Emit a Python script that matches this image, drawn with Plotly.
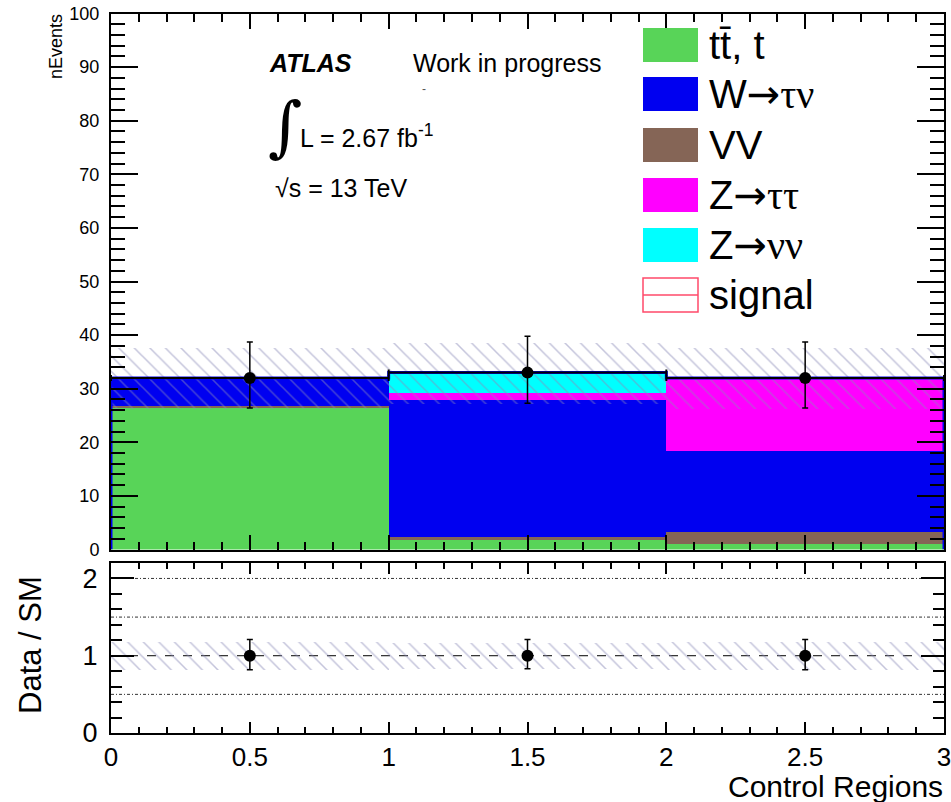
import numpy as np
import plotly.graph_objects as go

# ---------------- data ----------------
bin_edges = [0, 1, 2, 3]
bin_centers = [0.5, 1.5, 2.5]

ttbar = [26.6, 1.9, 1.15]
vv = [0.2, 0.5, 2.3]
w_taunu = [5.2, 25.5, 14.95]
z_tautau = [0.0, 1.3, 13.6]
z_nunu = [0.0, 3.8, 0.0]

mc_err = [5.6, 5.7, 5.6]

data = [32, 33, 32]
data_err_up = [6.7, 6.8, 6.7]
data_err_dn = [5.6, 5.7, 5.6]

ratio = [1.0, 1.0, 1.0]
ratio_err_up = [0.21, 0.21, 0.21]
ratio_err_dn = [0.18, 0.17, 0.18]
ratio_band = [0.18, 0.17, 0.18]

ratio_lines = [0.5, 1.0, 1.5, 2.0]

ARROW = "<span style='font-family:DejaVu Sans'>\u2192</span>"
def serif(s):
    return "<span style='font-family:Liberation Serif'>" + s + "</span>"

legend_labels = ["tt\u0304, t",
                 "W" + ARROW + serif("\u03c4\u03bd"),
                 "VV",
                 "Z" + ARROW + serif("\u03c4\u03c4"),
                 "Z" + ARROW + serif("\u03bd\u03bd"),
                 "signal"]
legend_colors = ["#58d458", "#0000f0", "#856556", "#ff00ff", "#00ffff", None]

stack = [ttbar, vv, w_taunu, z_tautau, z_nunu]
stack_colors = ["#58d458", "#856556", "#0000f0", "#ff00ff", "#00ffff"]

# ---------------- geometry helpers ----------------
W, H = 951, 802
def px(x):
    return x / W
def py(y):
    return 1 - y / H

FONT = "Liberation Sans, Arial, sans-serif"
HATCH = "#8a8ab8"

fig = go.Figure()

# stacked backgrounds
base = np.zeros(3)
for vals, col in zip(stack, stack_colors):
    vals = np.array(vals, dtype=float)
    fig.add_trace(go.Bar(x=bin_centers, y=vals, base=base.copy(), width=1,
                         marker=dict(color=col, line=dict(width=0)),
                         showlegend=False, hoverinfo="skip", xaxis="x", yaxis="y"))
    base = base + vals
total = base

# stack outline (blue)
ox = [bin_edges[0]] + bin_edges[:3] + [bin_edges[3], bin_edges[3]]
oy = [0] + list(total) + [total[-1], 0]
fig.add_trace(go.Scatter(x=ox, y=oy, mode="lines", line=dict(color="#0000f0", width=3, shape="hv"),
                         showlegend=False, hoverinfo="skip", xaxis="x", yaxis="y"))

# MC uncertainty hatch band
err = np.array(mc_err)
fig.add_trace(go.Bar(x=bin_centers, y=2 * err, base=total - err, width=1,
                     marker=dict(color="rgba(0,0,0,0)", line=dict(width=0),
                                 pattern=dict(shape="\\", fgcolor=HATCH, bgcolor="rgba(0,0,0,0)",
                                              size=11, solidity=0.14)),
                     showlegend=False, hoverinfo="skip", xaxis="x", yaxis="y"))

# data
fig.add_trace(go.Scatter(x=bin_centers, y=data, mode="markers",
                         marker=dict(color="black", size=12),
                         error_y=dict(type="data", symmetric=False, array=data_err_up, arrayminus=data_err_dn,
                                      color="black", thickness=1.5, width=3),
                         error_x=dict(type="data", array=[0.5, 0.5, 0.5], color="black", thickness=2, width=3),
                         showlegend=False, hoverinfo="skip", xaxis="x", yaxis="y"))

# ratio band
rb = np.array(ratio_band)
fig.add_trace(go.Bar(x=bin_centers, y=2 * rb, base=1 - rb, width=1,
                     marker=dict(color="rgba(0,0,0,0)", line=dict(width=0),
                                 pattern=dict(shape="\\", fgcolor=HATCH, bgcolor="rgba(0,0,0,0)",
                                              size=11, solidity=0.14)),
                     showlegend=False, hoverinfo="skip", xaxis="x2", yaxis="y2"))

# ratio reference lines
for v in ratio_lines:
    fig.add_shape(type="line", xref="x2", yref="y2", x0=0, x1=3, y0=v, y1=v,
                  line=dict(color="#333333" if v != 1.0 else "black", width=1,
                            dash="dash" if v == 1.0 else "3px,2px,1px,2px"), layer="below")

fig.add_trace(go.Scatter(x=bin_centers, y=ratio, mode="markers",
                         marker=dict(color="black", size=12),
                         error_y=dict(type="data", symmetric=False, array=ratio_err_up, arrayminus=ratio_err_dn,
                                      color="black", thickness=1.5, width=3),
                         showlegend=False, hoverinfo="skip", xaxis="x2", yaxis="y2"))

xdom = [px(111), px(944)]
axis_common = dict(showgrid=False, zeroline=False, showline=True, linecolor="black", linewidth=2,
                   ticks="inside", mirror="allticks", tickcolor="black", tickwidth=1.5,
                   automargin=False, ticklabeloverflow="allow")

fig.update_layout(
    width=W, height=H, margin=dict(l=0, r=0, t=0, b=0, pad=0, autoexpand=False),
    paper_bgcolor="white", plot_bgcolor="rgba(0,0,0,0)",
    barmode="overlay", bargap=0,
    font=dict(family=FONT, color="black"),
    xaxis=dict(domain=xdom, range=[0, 3], anchor="y", dtick=0.5, tick0=0, ticklen=15,
               showticklabels=False,
               minor=dict(dtick=0.1, ticklen=8, ticks="inside", tickcolor="black", tickwidth=1.5),
               **axis_common),
    yaxis=dict(domain=[py(549.5), py(13.5)], range=[0, 100], anchor="x", dtick=10, tick0=0, ticklen=27,
               tickfont=dict(size=18), ticklabelstandoff=6,
               minor=dict(dtick=2, ticklen=14, ticks="inside", tickcolor="black", tickwidth=1.5),
               **axis_common),
    xaxis2=dict(domain=xdom, range=[0, 3], anchor="y2", dtick=0.5, tick0=0, ticklen=11,
                tickfont=dict(size=26),
                minor=dict(dtick=0.1, ticklen=6, ticks="inside", tickcolor="black", tickwidth=1.5),
                **axis_common),
    yaxis2=dict(domain=[py(733), py(563)], range=[0, 2.2], anchor="x2", dtick=1, tick0=0, ticklen=23,
                tickfont=dict(size=27), ticklabelstandoff=6,
                minor=dict(dtick=0.2, ticklen=11, ticks="inside", tickcolor="black", tickwidth=1.5),
                **axis_common),
)

# ---------------- legend (drawn manually, ROOT style) ----------------
leg_y = [45, 94, 145, 195, 245, 295]
for lab, col, yc in zip(legend_labels, legend_colors, leg_y):
    x0, x1 = px(643), px(698)
    y0, y1 = py(yc + 17), py(yc - 17)
    if col is not None:
        fig.add_shape(type="rect", xref="paper", yref="paper", x0=x0, x1=x1, y0=y0, y1=y1,
                      fillcolor=col, line=dict(width=0))
    else:
        fig.add_shape(type="rect", xref="paper", yref="paper", x0=x0, x1=x1, y0=y0, y1=y1,
                      fillcolor="white", line=dict(color="#ff4a6a", width=1.5))
        fig.add_shape(type="line", xref="paper", yref="paper", x0=x0, x1=x1, y0=py(yc), y1=py(yc),
                      line=dict(color="#ff4a6a", width=1.5))
    fig.add_annotation(x=px(707), y=py(yc), xref="paper", yref="paper", text=lab, showarrow=False,
                       xanchor="left", yanchor="middle", font=dict(size=40, family=FONT, color="black"))

# ---------------- texts ----------------
def txt(x, y, s, size, xanchor="left", angle=0, family=FONT, color="black"):
    fig.add_annotation(x=px(x), y=py(y), xref="paper", yref="paper", text=s, showarrow=False,
                       xanchor=xanchor, yanchor="middle", textangle=angle,
                       font=dict(size=size, family=family, color=color))

txt(267, 63, "<b><i>ATLAS</i></b>", 25)
txt(411, 63, "Work in progress", 25)
txt(420, 89, "-", 12, color="#555555")
txt(266, 127, "\u222b", 66, family="DejaVu Serif, serif")
txt(298, 136, "L = 2.67 fb<sup>-1</sup>", 25)
txt(273, 188, "\u221as = 13 TeV", 25)
txt(56, 47, "nEvents", 18, xanchor="center", angle=-90)
txt(30, 645, "Data / SM", 31, xanchor="center", angle=-90)
txt(945, 786, "Control Regions", 30, xanchor="right")

fig.write_html("out.html", config={"displayModeBar": False},
               post_script="document.body.style.margin='0px';document.body.style.padding='0px';")
